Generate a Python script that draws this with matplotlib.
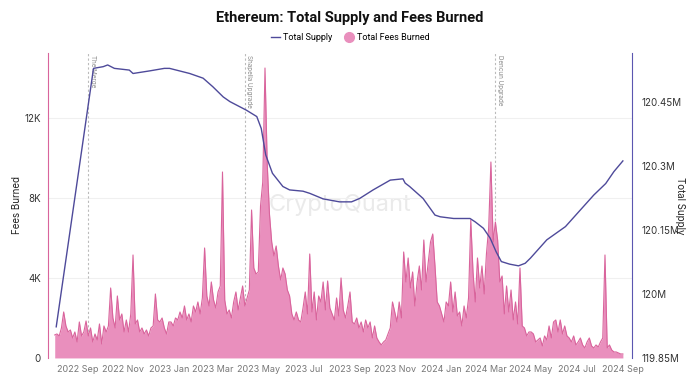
import matplotlib.pyplot as plt
import matplotlib.dates as mdates
from matplotlib.lines import Line2D
import pandas as pd

plt.rcParams['font.family'] = ['Inter', 'DejaVu Sans']

# daily fees burned, read every 3 days (thousands of ETH)
fee_start = '2022-08-01'
fees_k = [
    1.15, 1.2, 1.1, 1.5, 2.3, 1.6, 1.3, 1.4, 1.0, 1.3, 0.8, 1.8, 1.1, 1.3, 1.85, 1.1,
    1.5, 0.8, 1.2, 0.9, 1.7, 0.7, 1.6, 1.3, 1.6, 3.5, 2.0, 1.5, 3.1, 1.9, 2.2, 1.3,
    1.9, 1.3, 2.2, 5.15, 1.7, 1.9, 1.3, 1.5, 1.2, 1.4, 1.1, 1.5, 1.6, 3.2, 1.9, 1.8,
    2.0, 1.5, 1.2, 1.8,
    1.8, 1.6, 2.0, 1.9, 2.3, 2.0, 2.6, 1.9, 2.2, 1.8, 2.6, 2.3, 2.8, 2.2, 3.0, 5.5,
    3.1, 2.6, 3.8, 2.9, 2.5, 3.3, 3.6, 9.3, 2.9, 2.2, 2.4, 2.0, 2.8, 3.3, 2.4, 3.0,
    3.6, 2.6, 3.0, 3.4, 7.4, 4.5, 4.2, 4.3, 7.6, 8.8, 14.5, 9.7, 7.2, 5.8, 5.1, 5.6,
    4.6, 3.9, 4.5, 4.2, 3.4, 3.1,
    2.2, 1.9, 2.3, 1.9, 1.8, 2.5, 3.3, 2.2, 5.2, 2.3, 3.3, 1.9, 3.1, 2.8, 3.8, 2.4,
    3.85, 2.5, 2.2, 1.9, 3.0, 2.1, 4.0, 2.4, 2.0, 2.6, 3.3, 1.8, 1.7, 2.0, 1.5, 1.8,
    1.3, 1.9, 1.5, 1.8, 1.0, 1.6, 1.0, 0.8, 0.65, 0.8, 0.9, 1.2, 1.5, 2.8, 2.3, 1.8,
    2.8, 2.0, 5.3, 3.8, 5.0,
    3.5, 4.3, 2.6, 3.8, 4.6, 3.4, 5.9, 3.8, 4.8, 5.8, 6.2, 4.6, 2.8, 2.6, 2.2, 1.8,
    2.8, 2.6, 3.8, 2.3, 3.3, 2.1, 2.3, 1.6, 2.6, 2.0, 3.0, 6.9, 4.3, 2.8, 5.0, 3.5,
    4.6, 3.2, 5.2, 6.5, 9.8, 5.8, 6.8, 5.9, 3.8, 4.1, 2.2, 3.6, 2.3, 3.4, 1.9, 2.8,
    1.7, 4.5, 1.6, 1.5, 1.1, 1.3,
    1.3, 1.2, 0.8, 0.9, 1.0, 0.6, 1.1, 0.9, 1.6, 1.0, 1.8, 1.9, 1.3, 1.9, 1.2, 1.6,
    1.1, 1.0, 0.8, 1.1, 0.65, 0.8, 1.0, 0.65, 0.5, 0.8, 1.0, 0.6, 0.5, 0.65, 0.55, 0.8,
    1.0, 5.15, 0.5, 0.65, 0.4, 0.3, 0.3, 0.25, 0.2, 0.2,
]
fee_dates = pd.date_range(fee_start, periods=len(fees_k), freq='3D')

# total supply (millions of ETH)
supply_dates = pd.to_datetime([
    '2022-08-03', '2022-09-22', '2022-10-05', '2022-10-11', '2022-10-20', '2022-11-09',
    '2022-11-14', '2022-12-06', '2022-12-26', '2023-01-02', '2023-01-29', '2023-02-16',
    '2023-03-01', '2023-03-15', '2023-03-24', '2023-04-15', '2023-04-29', '2023-05-05',
    '2023-05-11', '2023-05-20', '2023-06-03', '2023-06-12', '2023-06-30', '2023-07-09',
    '2023-07-27', '2023-08-18', '2023-09-03', '2023-09-14', '2023-10-02', '2023-10-25',
    '2023-11-11', '2023-11-14', '2023-11-20', '2023-12-08', '2023-12-24', '2023-12-31',
    '2024-01-18', '2024-02-09', '2024-02-16', '2024-02-27', '2024-03-07', '2024-03-15',
    '2024-03-22', '2024-04-02', '2024-04-14', '2024-04-23', '2024-04-30', '2024-05-22',
    '2024-06-16', '2024-07-06', '2024-07-24', '2024-08-09', '2024-08-20', '2024-09-01',
])
supply_m = [
    119.923, 120.529, 120.533, 120.537, 120.529, 120.525,
    120.517, 120.523, 120.529, 120.529, 120.517, 120.506,
    120.486, 120.462, 120.451, 120.431, 120.416, 120.388,
    120.326, 120.283, 120.252, 120.244, 120.241, 120.236,
    120.223, 120.216, 120.216, 120.224, 120.244, 120.267,
    120.270, 120.260, 120.252, 120.224, 120.185, 120.181,
    120.177, 120.177, 120.169, 120.154, 120.131, 120.099,
    120.076, 120.070, 120.066, 120.072, 120.084, 120.127,
    120.158, 120.197, 120.232, 120.259, 120.287, 120.312,
]

events = ['The Merge', 'Shapella Upgrade', 'Dencun Upgrade']
event_dates = pd.to_datetime(['2022-09-15', '2023-04-13', '2024-03-14'])

fee_ticks = [0, 4, 8, 12]
supply_ticks = [119.85, 120.0, 120.15, 120.3, 120.45]

pink = '#D9649C'
pink_fill = '#E98FBD'
purple = '#4E4A9A'

fig = plt.figure(figsize=(7, 3.76), dpi=100)
ax = fig.add_axes([0.0686, 0.048, 0.834, 0.811])
ax2 = ax.twinx()

ax.fill_between(fee_dates, fees_k, 0, color=pink_fill, linewidth=0, zorder=2)
ax.plot(fee_dates, fees_k, color=pink, linewidth=0.8, zorder=3)

for name, d in zip(events, event_dates):
    ax.axvline(d, color='#BBBBBB', linestyle=(0, (2, 2)), linewidth=0.8, zorder=1)
    ax.text(d + pd.Timedelta(days=2), 15.15, name, rotation=270, va='top', ha='left',
            fontsize=4.5, color='#888888', zorder=4)

ax2.plot(supply_dates, supply_m, color=purple, linewidth=1.0)

ax.text(0.5, 0.5, 'CryptoQuant', transform=ax.transAxes, fontsize=17,
        color='#DDDDDD', alpha=0.6, ha='center', va='center', zorder=0)

ax.set_xlim(pd.Timestamp('2022-07-23'), pd.Timestamp('2024-09-13'))
ax.set_ylim(0, 15.25)
ax2.set_ylim(119.85, 120.565)

ax.set_yticks(fee_ticks)
ax.set_yticklabels(['0' if v == 0 else f'{v}K' for v in fee_ticks])
ax2.set_yticks(supply_ticks)
ax2.set_yticklabels([f'{v:g}M' for v in supply_ticks])

ax.xaxis.set_major_locator(mdates.MonthLocator(bymonth=[1, 3, 5, 7, 9, 11]))
ax.xaxis.set_major_formatter(mdates.DateFormatter('%Y %b'))

ax.grid(axis='y', color='#F0F0F0', linewidth=0.8)
ax.set_axisbelow(True)

for a in (ax, ax2):
    a.spines['top'].set_visible(False)
    a.spines['bottom'].set_visible(False)
    a.tick_params(length=0, labelsize=7, colors='#333333')
ax.spines['right'].set_visible(False)
ax2.spines['left'].set_visible(False)
ax.spines['left'].set_color(pink)
ax2.spines['right'].set_color('#5B56B0')
ax.tick_params(axis='x', labelsize=6.5, colors='#777777', pad=5)
ax.tick_params(axis='y', pad=5)
ax2.tick_params(axis='y', pad=7)

ax.set_ylabel('Fees Burned', fontsize=7, color='#222222')
ax.yaxis.set_label_coords(-0.044, 0.5)
ax2.set_ylabel('Total Supply', fontsize=7, color='#222222', rotation=270, va='center')
ax2.yaxis.set_label_coords(1.083, 0.5)

fig.text(0.5, 0.952, 'Ethereum: Total Supply and Fees Burned', ha='center', va='center',
         fontsize=10.5, fontweight='bold', color='#111111', family=['Roboto', 'DejaVu Sans'])
handles = [Line2D([], [], color=purple, linewidth=1.0),
           Line2D([], [], color=pink_fill, marker='o', linestyle='none', markersize=7)]
fig.legend(handles, ['Total Supply', 'Total Fees Burned'], loc='center',
           bbox_to_anchor=(0.5, 0.9), ncol=2, frameon=False,
           prop={'family': ['Roboto', 'DejaVu Sans'], 'size': 6.5},
           handlelength=1.0, handletextpad=0.4, columnspacing=1.3)

fig.savefig('out.png', dpi=100)
